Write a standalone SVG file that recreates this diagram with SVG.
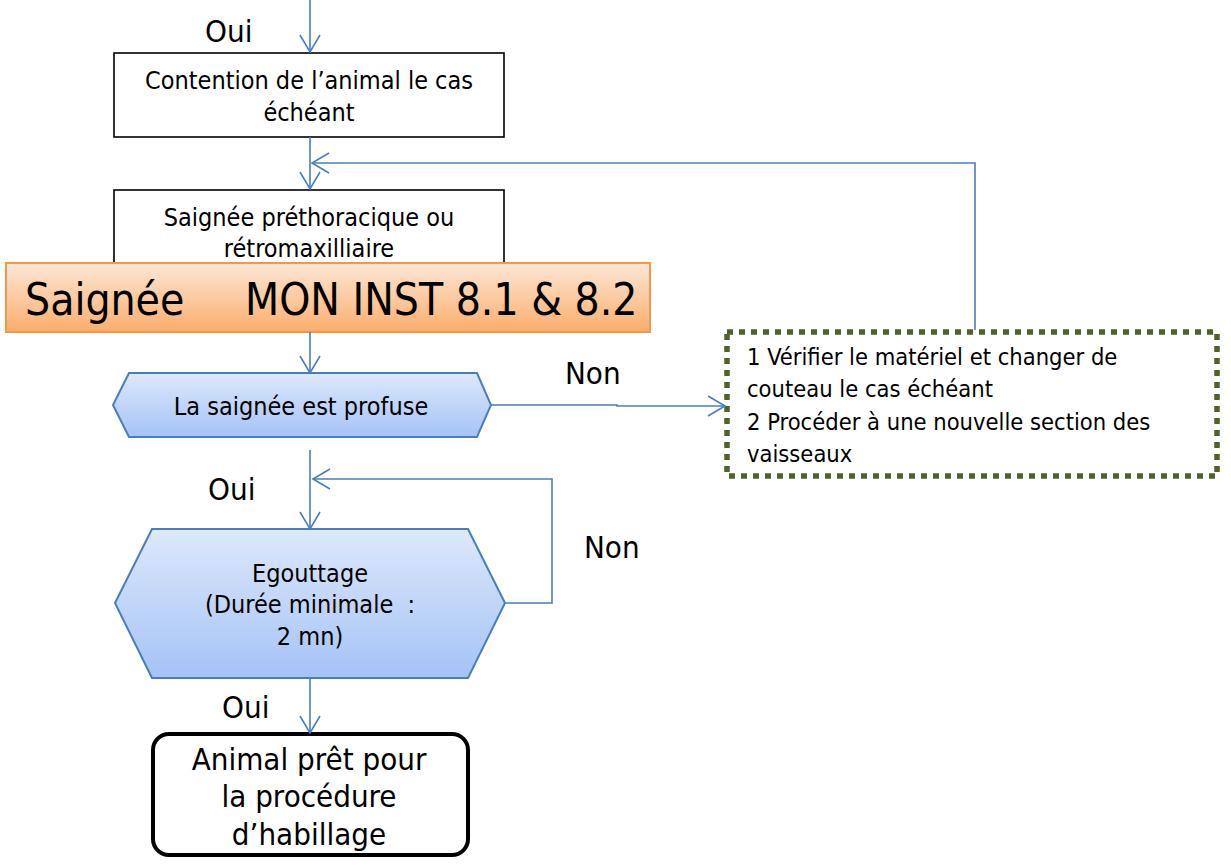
<svg xmlns="http://www.w3.org/2000/svg" width="1231" height="866" viewBox="0 0 1231 866">
<defs>
<style>
text{font-family:"DejaVu Sans Condensed","DejaVu Sans",sans-serif;fill:#000}
.c{stroke:#4A7EBB;stroke-width:1.6;fill:none}
.box{fill:#fff;stroke:#000;stroke-width:1.6}
.hex{fill:url(#gb);stroke:#4A7EBB;stroke-width:2}
.t22{font-size:25px;text-anchor:middle}
.lbl{font-size:31px}
.dt{font-size:23.5px}
</style>
<linearGradient id="gb" x1="0" y1="0" x2="0" y2="1">
<stop offset="0" stop-color="#DDE8FB"/><stop offset="1" stop-color="#A5C3F6"/>
</linearGradient>
<linearGradient id="go" x1="0" y1="0" x2="0" y2="1">
<stop offset="0" stop-color="#FDE7D6"/><stop offset="1" stop-color="#FAAE6C"/>
</linearGradient>
<marker id="ar" markerUnits="userSpaceOnUse" markerWidth="24" markerHeight="24" viewBox="-20 -12 24 24" refX="0" refY="0" orient="auto">
<path d="M-17,-10 L0,0 L-17,10" fill="none" stroke="#4A7EBB" stroke-width="1.6"/>
</marker>
</defs>

<g id="n-contention">
<rect class="box" x="114" y="53" width="390" height="84"/>
<text class="t22" x="309" y="89">Contention de l’animal le cas</text>
<text class="t22" x="309" y="121">échéant</text>
</g>

<g id="n-saignee-pre">
<rect class="box" x="114" y="190" width="390" height="90"/>
<text class="t22" x="309" y="226">Saignée préthoracique ou</text>
<text class="t22" x="309" y="257">rétromaxilliaire</text>
</g>

<g id="n-saignee-title">
<rect x="6" y="263" width="644" height="69" fill="url(#go)" stroke="#F79646" stroke-width="2"/>
<text x="25" y="315" font-size="44">Saignée</text>
<text x="245" y="315" font-size="44">MON INST 8.1 &amp; 8.2</text>
</g>

<g id="n-profuse">
<polygon class="hex" points="129,373 477,373 491,405 477,437 129,437 113,405"/>
<text class="t22" x="301" y="415">La saignée est profuse</text>
</g>

<g id="n-verifier">
<rect x="727" y="332" width="490" height="144" fill="#fff" stroke="#4F6228" stroke-width="5.5" stroke-dasharray="6 6"/>
<text class="dt" x="747" y="365">1 Vérifier le matériel et changer de</text>
<text class="dt" x="747" y="397">couteau le cas échéant</text>
<text class="dt" x="747" y="430">2 Procéder à une nouvelle section des</text>
<text class="dt" x="747" y="462">vaisseaux</text>
</g>

<g id="n-egouttage">
<polygon class="hex" points="152,529 468,529 505,603 468,678 152,678 115,603"/>
<text class="t22" x="310" y="582">Egouttage</text>
<text class="t22" x="310" y="613" xml:space="preserve">(Durée minimale  :</text>
<text class="t22" x="310" y="645">2 mn)</text>
</g>

<g id="n-pret">
<rect x="153" y="734" width="315" height="121" rx="16" ry="16" fill="#fff" stroke="#000" stroke-width="4"/>
<text x="309" y="770" font-size="31" text-anchor="middle">Animal prêt pour</text>
<text x="309" y="807" font-size="31" text-anchor="middle">la procédure</text>
<text x="309" y="845" font-size="31" text-anchor="middle">d’habillage</text>
</g>

<g id="connectors">
<line class="c" x1="310" y1="0" x2="310" y2="52" marker-end="url(#ar)"/>
<line class="c" x1="310" y1="137" x2="310" y2="189" marker-end="url(#ar)"/>
<polyline class="c" points="975,330 975,163 312,163" marker-end="url(#ar)"/>
<line class="c" x1="310" y1="332" x2="310" y2="373" marker-end="url(#ar)"/>
<polyline class="c" points="491,405 617,405 617,406 725,406" marker-end="url(#ar)"/>
<line class="c" x1="310" y1="450" x2="310" y2="529" marker-end="url(#ar)"/>
<polyline class="c" points="505,603 552,603 552,479 313,479" marker-end="url(#ar)"/>
<line class="c" x1="310" y1="678" x2="310" y2="733" marker-end="url(#ar)"/>
</g>

<g id="labels">
<text class="lbl" x="205" y="42">Oui</text>
<text class="lbl" x="565" y="384">Non</text>
<text class="lbl" x="208" y="500">Oui</text>
<text class="lbl" x="584" y="558">Non</text>
<text class="lbl" x="222" y="718">Oui</text>
</g>
</svg>
